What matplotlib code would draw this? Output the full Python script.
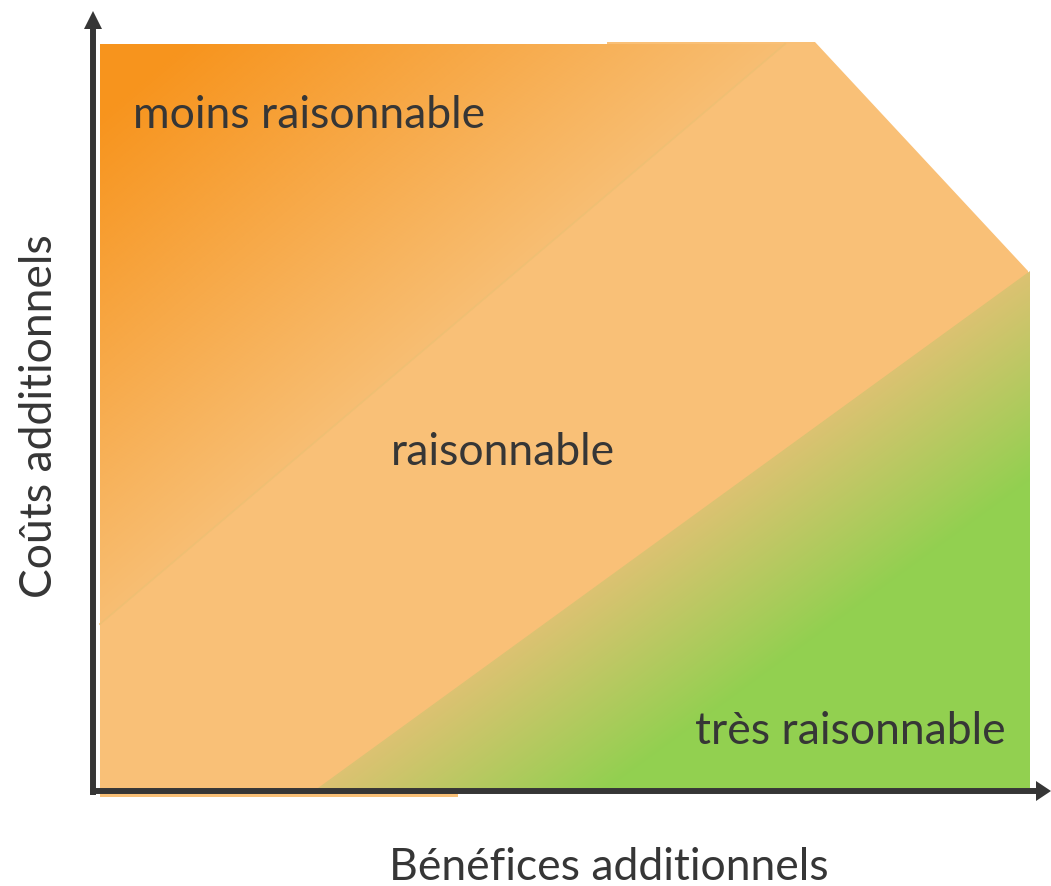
import numpy as np
import matplotlib.pyplot as plt
from matplotlib.colors import to_rgb
from matplotlib.patches import Polygon

W, H = 1051, 887

# region outlines in picture units (x to the right, y downwards)
mid_region = [(100, 45), (607, 45), (607, 43), (815, 43), (1028, 272),
              (1028, 787), (458, 787), (458, 798), (100, 798)]
top_region = [(100, 45), (785, 45), (100, 625)]
low_region = [(318, 789), (1030, 272), (1030, 789)]

region_labels = ['moins raisonnable', 'raisonnable', 'très raisonnable']
label_xy = [(133, 128), (391, 465), (695, 744)]
x_title = 'Bénéfices additionnels'
y_title = 'Coûts additionnels'

dark_orange = '#F7941D'
light_orange = '#F9C077'
edge_orange = '#F7BE73'
tan = '#DCC272'
green = '#92D050'
ink = '#363636'

plt.rcParams['font.family'] = ['Lato', 'DejaVu Sans']


def gradient_fill(ax, poly, p0, p1, c0, c1):
    yy, xx = np.mgrid[0:H, 0:W] + 0.5
    d = np.array(p1, float) - np.array(p0, float)
    t = ((xx - p0[0]) * d[0] + (yy - p0[1]) * d[1]) / (d @ d)
    t = np.clip(t, 0, 1)[..., None]
    img = np.array(to_rgb(c0)) * (1 - t) + np.array(to_rgb(c1)) * t
    patch = Polygon(poly, closed=True, fc='none', ec='none')
    ax.add_patch(patch)
    im = ax.imshow(img, extent=(0, W, H, 0), interpolation='bilinear', zorder=2)
    im.set_clip_path(patch)


fig = plt.figure(figsize=(W / 100, H / 100), dpi=100)
ax = fig.add_axes([0, 0, 1, 1])

ax.add_patch(Polygon(mid_region, closed=True, fc=light_orange, ec='none', zorder=1))
gradient_fill(ax, top_region, (135, 86), (386, 383), dark_orange, edge_orange)
ax.plot([100, 785], [625, 45], color='#EFBF73', lw=1.2, zorder=3)
gradient_fill(ax, low_region, (784, 451), (884, 588), tan, green)

# axes with arrow heads
ax.plot([93, 93], [796, 28], color=ink, lw=4.3, solid_capstyle='butt', zorder=5)
ax.plot([90, 1038], [792, 792], color=ink, lw=4.3, solid_capstyle='butt', zorder=5)
ax.add_patch(Polygon([(84, 30), (102, 30), (93, 12)], closed=True, fc=ink, ec='none', zorder=5))
ax.add_patch(Polygon([(1036, 782), (1036, 802), (1051, 792)], closed=True, fc=ink, ec='none', zorder=5))

for lab, (x, y) in zip(region_labels, label_xy):
    ax.text(x, y, lab, fontsize=32, color=ink, ha='left', va='baseline', zorder=6)

ax.text(609, 880, x_title, fontsize=32, color=ink, ha='center', va='baseline')
ax.text(52, 416, y_title, fontsize=32, color=ink, rotation=90,
        ha='center', va='baseline', rotation_mode='anchor')

ax.set_xlim(0, W)
ax.set_ylim(H, 0)
ax.axis('off')

fig.savefig('out.png', dpi=100)
plt.close(fig)
